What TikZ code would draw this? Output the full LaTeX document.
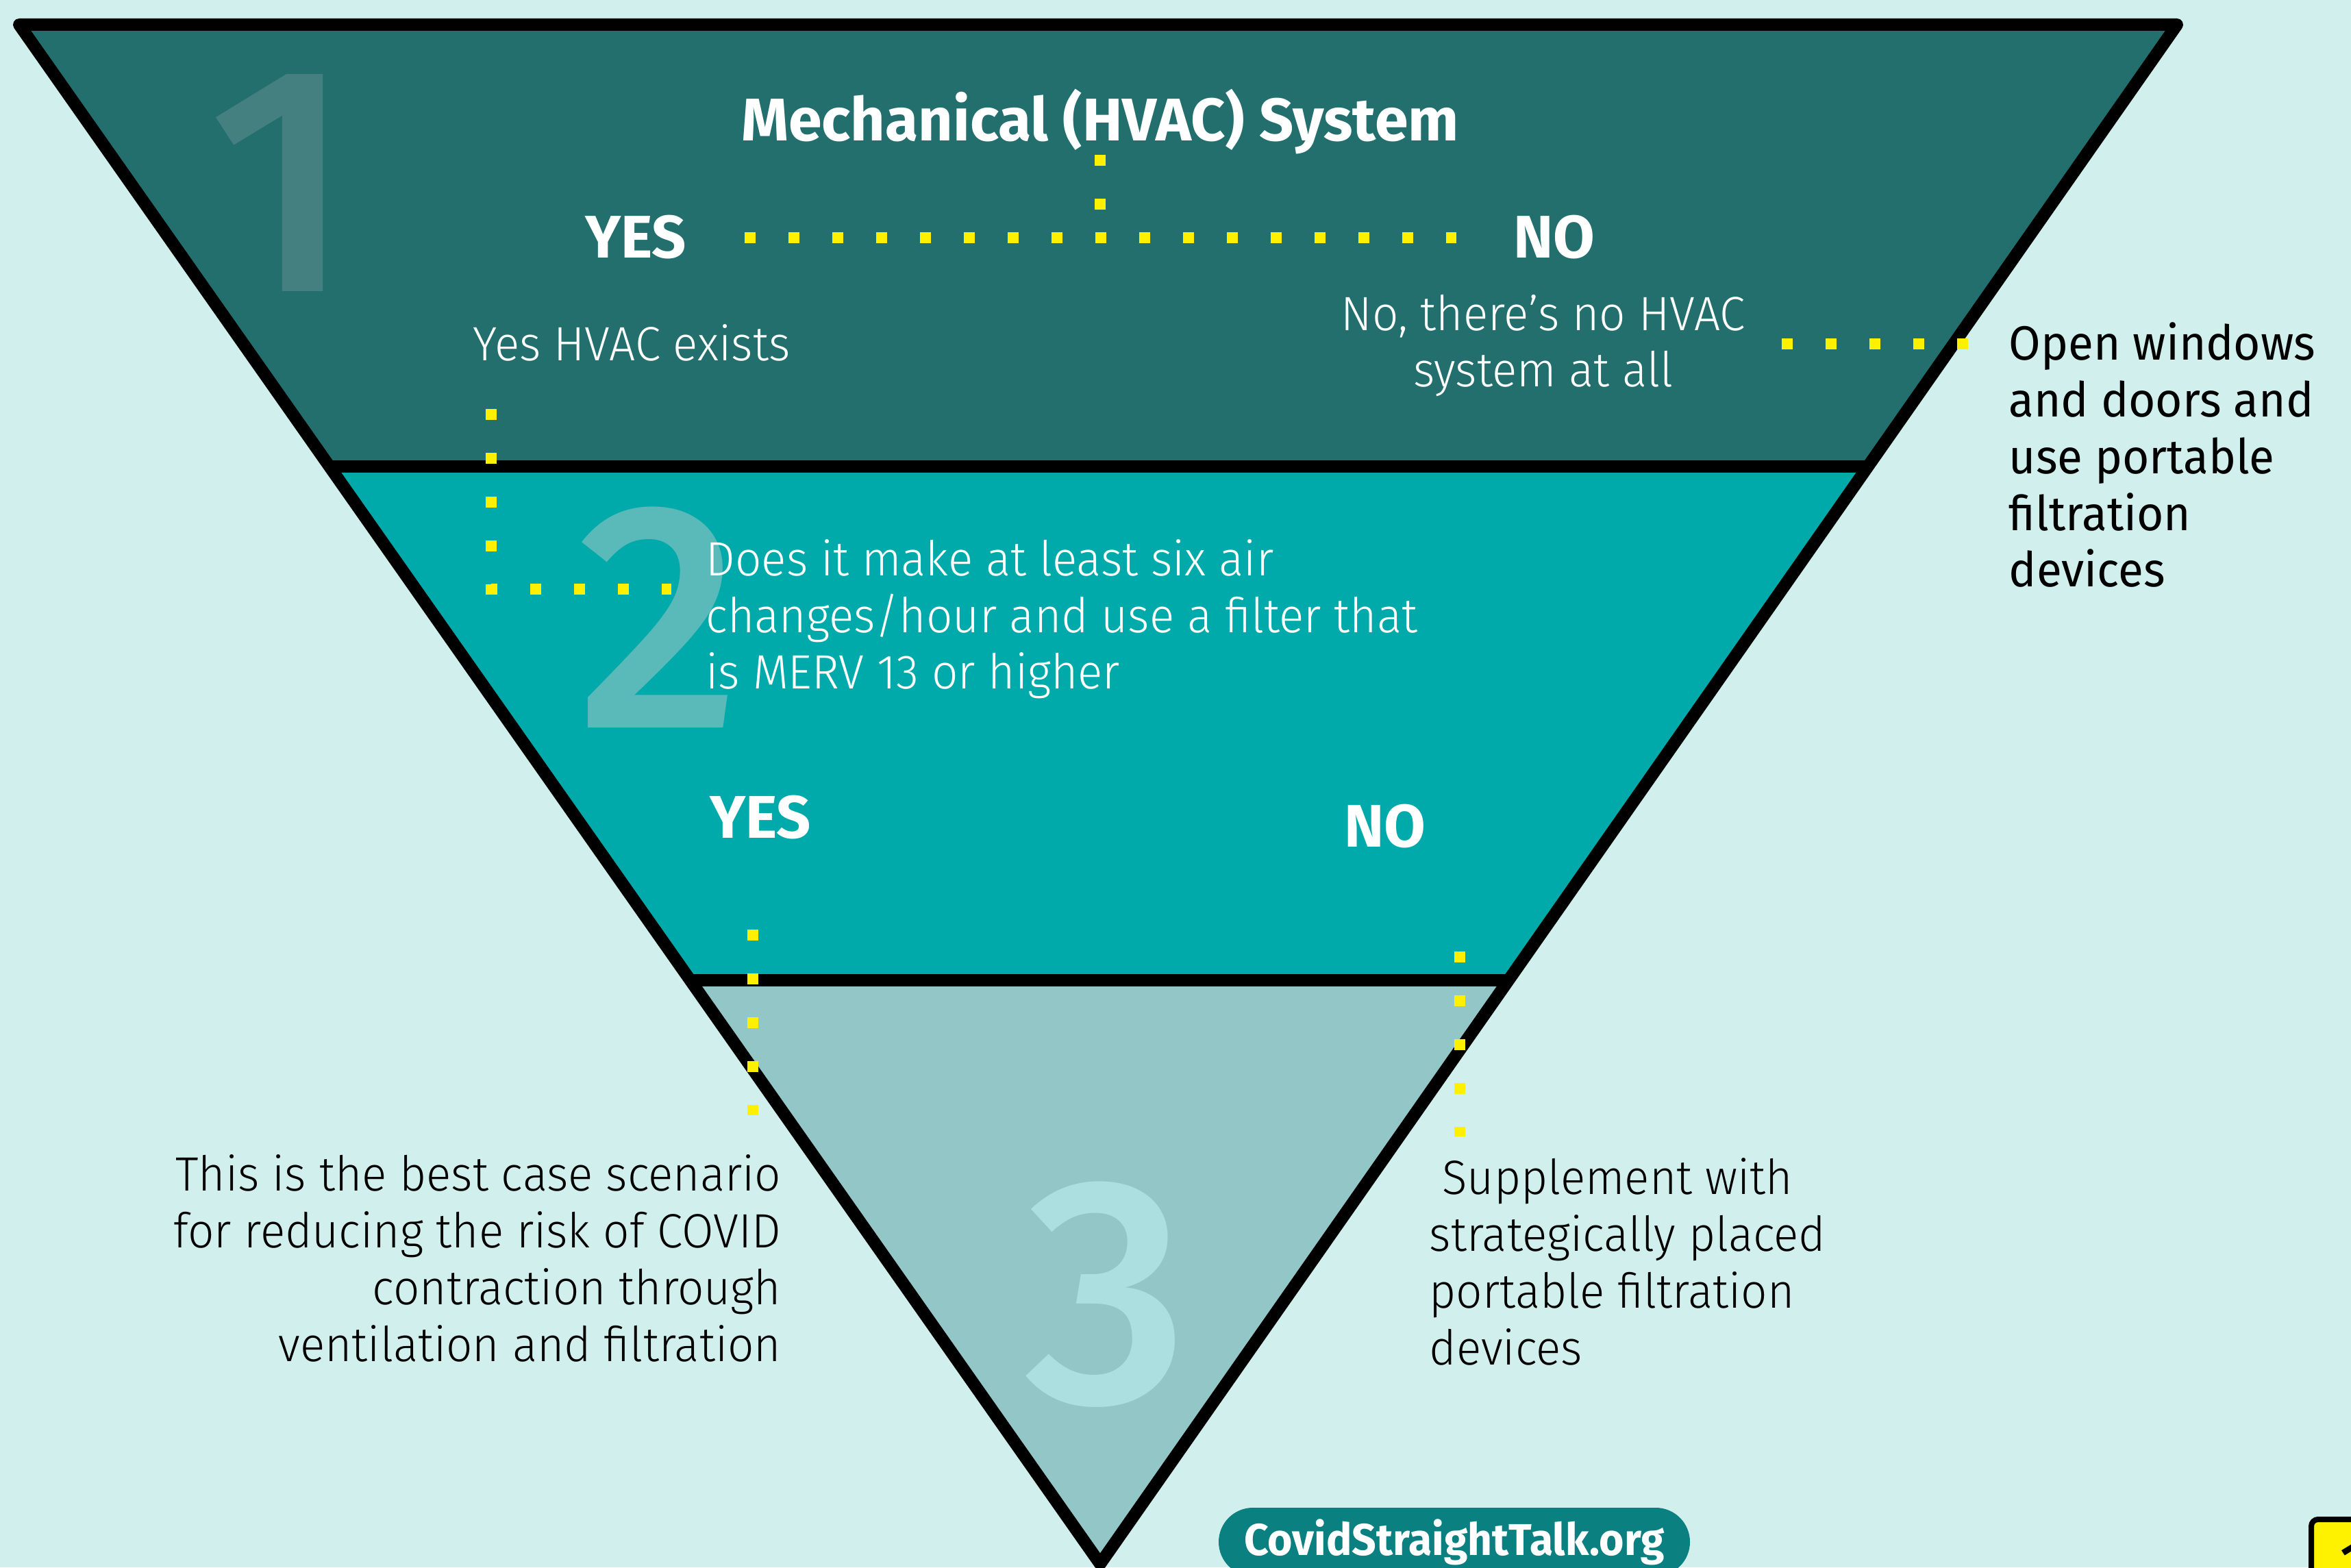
\documentclass[tikz,border=0pt]{standalone}
\usepackage{fontspec}
\setmainfont{Fira Sans}
\IfFontExistsTF{Fira Sans Light}
  {\newfontfamily\lightfont{Fira Sans Light}[FakeStretch=0.96]}
  {\newfontfamily\lightfont{Fira Sans}[FakeStretch=0.96]}
\IfFontExistsTF{Fira Sans Medium}
  {\newfontfamily\numfont{Fira Sans Medium}}
  {\newfontfamily\numfont{Fira Sans}}
\newfontfamily\narrowfont{Fira Sans}[FakeStretch=0.96]
\newfontfamily\plainfont{Fira Sans}[FakeStretch=0.96]
\usetikzlibrary{positioning, calc}
\definecolor{bgcyan}{RGB}{208,239,237}
\definecolor{tealdark}{RGB}{34,111,110}
\definecolor{tealmid}{RGB}{0,170,170}
\definecolor{teallight}{RGB}{147,198,199}
\definecolor{numone}{RGB}{69,128,128}
\definecolor{numtwo}{RGB}{90,185,185}
\definecolor{numthree}{RGB}{172,224,224}
\definecolor{dotyellow}{RGB}{255,240,0}
\definecolor{badgeteal}{RGB}{10,128,128}

\begin{document}
\begin{tikzpicture}[
    heading/.style={text=white, font=\fontsize{25}{30}\selectfont\bfseries, inner sep=0pt, anchor=base},
    lightwhite/.style={text=white, font=\fontsize{20}{23.6}\selectfont\lightfont, inner sep=0pt},
    lightblack/.style={text=black, font=\fontsize{20}{23.6}\selectfont\lightfont, inner sep=0pt},
    advice/.style={text=black, font=\fontsize{20}{23.6}\selectfont\plainfont, inner sep=0pt, align=left, anchor=base west},
    bignum/.style={font=\fontsize{134}{134}\selectfont\numfont, inner sep=0pt, anchor=base},
    dots/.style={draw=dotyellow, line width=0.16cm, dash pattern=on 0.16cm off 0.48cm},
    edge/.style={line width=0.18cm, line join=round}
]
\fill[bgcyan] (0,0) rectangle (34.32,22.88);
\useasboundingbox (0,0) rectangle (34.32,22.88);

% funnel
\coordinate (tl) at (0.28,22.52);
\coordinate (tr) at (31.78,22.52);
\coordinate (tip) at (16.06,0.05);
\begin{scope}
  \clip (tl) -- (tr) -- (tip) -- cycle;
  \fill[tealdark] (0,16.07) rectangle (34.32,22.88);
  \fill[tealmid] (0,8.57) rectangle (34.32,16.07);
  \fill[teallight] (0,0) rectangle (34.32,8.57);
  \node[bignum, text=numone] (one) at (4.10,18.62) {1};
  \node[bignum, text=numtwo] (two) at (9.62,12.25) {2};
  \node[bignum, text=numthree] (three) at (16.16,2.41) {3};
  \draw[edge] (0,16.07) -- (34.32,16.07);
  \draw[edge] (0,8.57) -- (34.32,8.57);
\end{scope}
\draw[edge] (tl) -- (tr) -- (tip) -- cycle;

% step 1 (multi-line nodes sit on their last baseline)
\node[heading] (title) at (16.06,20.82) {Mechanical (HVAC) System};
\node[heading] (yes1) at (9.28,19.11) {YES};
\node[heading] (no1) at (22.69,19.11) {NO};
\node[lightwhite, anchor=base] (hvacyes) at (9.22,17.61) {Yes HVAC exists};
\node[lightwhite, anchor=base, align=center] (hvacno) at (22.53,17.23) {No, there’s no HVAC\\system at all};
\node[advice] (openwin) at (29.32,14.31) {Open windows\\and doors and\\use portable\\filtration\\devices};

% step 2
\node[lightwhite, anchor=base west, align=left] (ach) at (10.30,12.82) {Does it make at least six air\\changes/hour and use a filter that\\is MERV 13 or higher};
\node[heading] (yes2) at (11.10,10.64) {YES};
\node[heading] (no2) at (20.22,10.51) {NO};

% step 3
\node[lightblack, anchor=base east, align=right] (best) at (11.41,3.01) {This is the best case scenario\\for reducing the risk of COVID\\contraction through\\ventilation and filtration};
\node[lightblack, anchor=base west, align=left] (supp) at (20.86,2.96) {\ Supplement with\\strategically placed\\portable filtration\\devices};

% dotted connectors
\coordinate (hub) at (title.south |- yes1.east);
\coordinate (bend) at (7.17,14.28);
\coordinate (nogap) at (26.01,17.86);
\coordinate (yesleg) at (10.99,6.60);
\coordinate (noleg) at (21.31,6.29);
\draw[dots] (title.south) -- (hub);
\draw[dots, shorten <=0.84cm, shorten >=0.83cm] (yes1.east) -- (no1.west);
\draw[dots, shorten <=0.69cm] (bend |- hvacyes.south) -- (bend) -- (9.80,14.28);
\draw[dots, shorten >=0.59cm] (nogap) -- (openwin.west |- nogap);
\draw[dots, shorten <=1.31cm] (yes2.south -| yesleg) -- (yesleg);
\draw[dots, shorten <=1.50cm] (no2.south -| noleg) -- (noleg);

% footer
\node[fill=badgeteal, text=white, rounded corners=0.5cm, minimum width=6.88cm, minimum height=1.0cm,
      font=\fontsize{18.5}{22}\selectfont\narrowfont\bfseries] (site) at (21.23,0.37) {CovidStraightTalk.org};
\node[draw=black, line width=0.08cm, fill=yellow, rounded corners=0.1cm, minimum size=1.2cm,
      font=\fontsize{20}{24}\selectfont\bfseries] (pagenum) at (34.34,0.10) {1};
\end{tikzpicture}
\end{document}
